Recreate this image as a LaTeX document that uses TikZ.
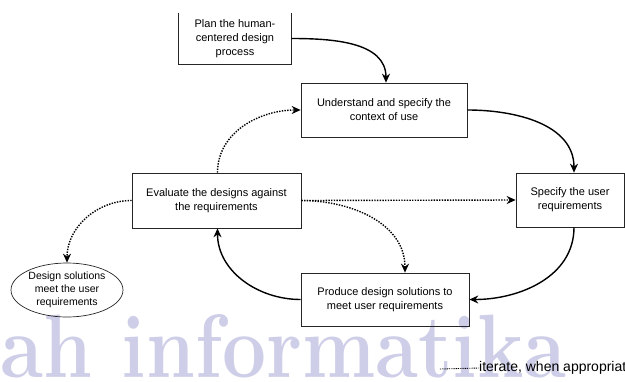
\documentclass[tikz,border=0pt]{standalone}
\usepackage{fontspec}
\usepackage{graphicx}
\setsansfont{Liberation Sans}
\usetikzlibrary{arrows.meta,shapes.geometric}
\definecolor{wmcol}{RGB}{206,206,232}
\begin{document}
\begin{tikzpicture}[x=1pt,y=-1pt,
  box/.style={draw=black!85, line width=0.7pt, align=center, inner sep=0pt,
     font=\sffamily\fontsize{11}{14}\selectfont},
  flow/.style={line width=1.4pt, -{Stealth[length=9pt,width=8pt]}},
  dots/.style={line width=1.4pt, dash pattern=on 1.4pt off 1.3pt, -{Stealth[length=9pt,width=8pt]}},
  legendline/.style={line width=0.9pt, dash pattern=on 0.9pt off 0.9pt}]
\useasboundingbox (0,0) rectangle (625,381);
\clip (0,0) rectangle (625,381);
% watermark
\node[anchor=base east, inner sep=0pt, text=wmcol] (wm) at (567,377)
  {\scalebox{0.87}[1]{\rmfamily\bfseries\fontsize{90}{90}\selectfont ah informatika}};
% nodes
\node[box, draw=none, minimum width=112pt, minimum height=51pt] (plan) at (235,38.5)
  {Plan the human-\\centered design\\process};
\draw[black!85, line width=0.7pt] (plan.north west) -- (plan.south west) -- (plan.south east) -- (plan.north east);
\node[box, minimum width=166pt, minimum height=54pt] (und) at (384,110)
  {Understand and specify the\\context of use};
\node[box, minimum width=169pt, minimum height=55pt] (eval) at (216.5,200.5)
  {Evaluate the designs against\\the requirements};
\node[box, minimum width=108pt, minimum height=54pt] (spec) at (570,200)
  {Specify the user\\requirements};
\node[box, minimum width=168pt, minimum height=53pt] (prod) at (385,299.5)
  {Produce design solutions to\\meet user requirements};
\node[box, ellipse, minimum width=112pt, minimum height=54pt,
  font=\sffamily\fontsize{10.5}{13}\selectfont] (sol) at (67,290)
  {Design solutions\\meet the user\\requirements};
% solid flow
\draw[flow] (plan.east) to[out=0,in=90] ([xshift=2pt]und.north);
\draw[flow] (und.east) to[out=0,in=90] ([xshift=4pt]spec.north);
\draw[flow] ([xshift=4pt]spec.south) to[out=-90,in=0] (prod.east);
\draw[flow] (prod.west) to[out=180,in=-90] ([xshift=1pt]eval.south);
% dotted
\draw[dots] ([xshift=1pt]eval.north) to[out=90,in=180] (und.west);
\draw[dots] (eval.east) -- (spec.west);
\draw[dots] (eval.east) to[out=0,in=90] ([xshift=20pt]prod.north);
\draw[dots] (eval.west) to[out=180,in=90] (sol.north);
% legend
\node[anchor=west, inner sep=0pt, font=\sffamily\fontsize{14}{16}\selectfont] (iter) at (479,368)
  {iterate, when appropriate};
\coordinate (lg) at (440,369);
\draw[legendline] (lg) -- (iter.west);
\end{tikzpicture}
\end{document}
